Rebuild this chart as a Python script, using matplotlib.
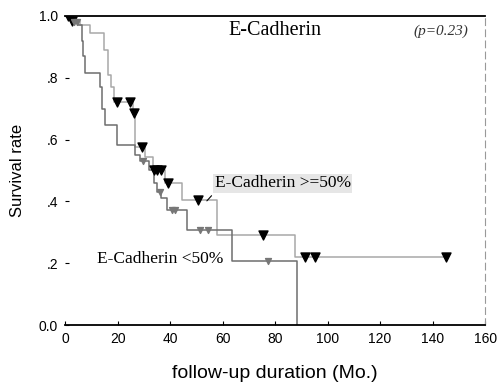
import numpy as np
import matplotlib
matplotlib.use("Agg")
import matplotlib.pyplot as plt

# E-Cadherin >= 50% (lighter curve)
hi_t = [0, 2, 5.7, 9.5, 15, 16.5, 17.5, 18.5, 26, 26.7, 30.5, 33.5, 38, 44.6, 58, 87.6, 145]
hi_s = [1.0, 0.985, 0.97, 0.945, 0.89, 0.81, 0.77, 0.72, 0.686, 0.576, 0.544, 0.50, 0.46, 0.405, 0.29, 0.22, 0.22]
hi_cens = [1, 2.5, 19.8, 24.8, 26.3, 29.3, 33.8, 35.2, 36.6, 39.2, 50.8, 75.5, 91.4, 95.2, 145]

# E-Cadherin < 50% (darker curve)
lo_t = [0, 3, 5, 6.5, 7, 7.6, 13.3, 14, 15.2, 19.8, 26.7, 28.5, 32, 34, 35, 36.5, 39, 46.5, 63.5, 88.3]
lo_s = [1.0, 0.98, 0.97, 0.92, 0.87, 0.815, 0.77, 0.70, 0.647, 0.583, 0.55, 0.53, 0.50, 0.46, 0.43, 0.41, 0.372, 0.307, 0.207, 0.0]
lo_cens = [3.5, 4.5, 29.7, 36, 40.8, 41.8, 51.4, 54.6, 77.4]

xticks = [0, 20, 40, 60, 80, 100, 120, 140, 160]
yticks = [0.0, 0.2, 0.4, 0.6, 0.8, 1.0]
ylabels = ["0.0", ".2", ".4", ".6", ".8", "1.0"]


def surv_at(t, s, x):
    i = np.searchsorted(t, x, side="right") - 1
    return np.array(s)[i]


fig = plt.figure(figsize=(4.97, 3.89), dpi=100)
ax = fig.add_axes([0.131, 0.1645, 0.845, 0.7945])

ax.step(hi_t, hi_s, where="post", color="#a8a8a8", lw=1.1)
ax.step(lo_t, lo_s, where="post", color="#6e6e6e", lw=1.1)

ax.scatter(hi_cens, surv_at(hi_t, hi_s, hi_cens), marker="v", s=42, color="black", zorder=3)
ax.scatter(lo_cens, surv_at(lo_t, lo_s, lo_cens), marker="v", s=18, color="#777777", zorder=3)

ax.set_xlim(0, 160)
ax.set_ylim(0, 1.0)
ax.set_xticks(xticks)
ax.set_yticks(yticks)
ax.set_yticklabels(ylabels)
ax.tick_params(direction="in", length=3, labelsize=10, pad=5)
for lab in ax.get_xticklabels() + ax.get_yticklabels():
    lab.set_family("Liberation Sans")

ax.spines["left"].set_visible(False)
ax.spines["top"].set_linewidth(1.3)
ax.spines["bottom"].set_linewidth(1.3)
ax.spines["right"].set_color("#999999")
ax.spines["right"].set_linestyle((0, (6, 4)))
ax.spines["right"].set_linewidth(0.8)

ax.set_xlabel("follow-up duration (Mo.)", fontsize=14, family="Liberation Sans", labelpad=14)
ax.set_ylabel("Survival rate", fontsize=12, family="Liberation Sans", labelpad=10)

ax.text(80, 0.952, "E-Cadherin", fontsize=14.5, family="Liberation Serif", ha="center", va="center")
ax.text(143, 0.952, "(p=0.23)", fontsize=11, family="Liberation Serif", style="italic",
        ha="center", va="center", color="#333333")
ax.text(57, 0.458, "E-Cadherin >=50%", fontsize=12.5, family="Liberation Serif", ha="left", va="center",
        bbox=dict(facecolor="#e6e6e6", edgecolor="none", pad=1))
ax.text(12, 0.215, "E-Cadherin <50%", fontsize=12.5, family="Liberation Serif", ha="left", va="center")
ax.annotate("", xy=(53.3, 0.395), xytext=(56.5, 0.425),
            arrowprops=dict(arrowstyle="-", color="black", lw=0.8))

fig.savefig("out.png", dpi=100)
